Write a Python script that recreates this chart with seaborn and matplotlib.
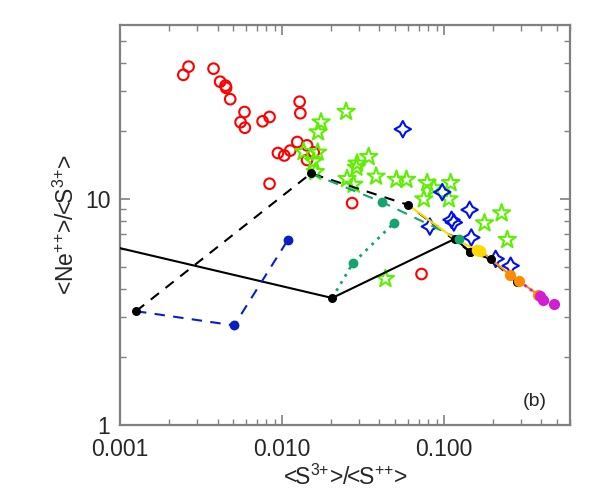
import numpy as np
import pandas as pd
import matplotlib
matplotlib.use("Agg")
import matplotlib.pyplot as plt
import seaborn as sns
from matplotlib.ticker import FixedLocator, NullFormatter, LogLocator

sns.set_style("white")
plt.rcParams['font.family'] = ['Liberation Sans', 'DejaVu Sans']
plt.rcParams['mathtext.fontset'] = 'custom'
plt.rcParams['mathtext.rm'] = 'Liberation Sans'
plt.rcParams['mathtext.it'] = 'Liberation Sans'

# ---------------- data ----------------
red_x = [0.00246, 0.00265, 0.00378, 0.00415, 0.00448, 0.00452, 0.00479, 0.00587,
         0.00555, 0.0059, 0.00759, 0.00838, 0.01285, 0.01298, 0.00944, 0.01033,
         0.01125, 0.01243, 0.01428, 0.0157, 0.01428, 0.00838, 0.0271, 0.0727]
red_y = [35.5, 38.6, 37.8, 33.1, 31.8, 31.1, 27.7, 24.3, 21.9, 20.7, 22.1, 23.1,
         27.0, 24.0, 16.0, 15.6, 16.4, 17.9, 17.3, 16.1, 14.9, 11.7, 9.6, 4.66]

green_x = [0.02488, 0.01743, 0.0167, 0.0136, 0.0166, 0.01568, 0.01607, 0.0343,
           0.0291, 0.0288, 0.0381, 0.0252, 0.0277, 0.0509, 0.0587, 0.0788,
           0.0751, 0.1099, 0.1072, 0.0866, 0.227, 0.178, 0.246, 0.0435]
green_y = [24.4, 21.9, 19.8, 16.2, 16.1, 14.7, 13.2, 15.4, 14.4, 13.8, 12.6, 12.3,
           11.6, 12.2, 12.2, 11.8, 10.0, 11.8, 10.0, 11.2, 8.67, 7.83, 6.61, 4.44]

blue_x = [0.0557, 0.0976, 0.144, 0.1114, 0.1151, 0.0818, 0.1475, 0.2085, 0.258]
blue_y = [20.4, 10.74, 8.97, 8.10, 7.88, 7.56, 6.76, 5.44, 5.07]

# model tracks
solid_x = [0.0003, 0.0204, 0.1168, 0.1445]
solid_y = [7.43, 3.65, 6.67, 5.86]

dashk_x = [0.001256, 0.0151, 0.0598, 0.1445, 0.194, 0.281]
dashk_y = [3.19, 13.0, 9.44, 5.86, 5.43, 4.28]

blue_line_x = [0.001256, 0.00507, 0.01088]
blue_line_y = [3.19, 2.76, 6.6]

teal_dash_x = [0.0151, 0.0415, 0.1236]
teal_dash_y = [13.0, 9.70, 6.67]

teal_dot_x = [0.0204, 0.02733, 0.049]
teal_dot_y = [3.65, 5.19, 7.83]

yellow_x = [0.0598, 0.1168, 0.159, 0.168]
yellow_y = [9.44, 6.67, 5.95, 5.92]

orange_x = [0.168, 0.2556, 0.29, 0.381]
orange_y = [5.92, 4.62, 4.35, 3.77]

mag_x = [0.29, 0.39, 0.411, 0.479]
mag_y = [4.35, 3.71, 3.56, 3.44]

x_ticks = [0.001, 0.010, 0.100]
x_ticklabels = ["0.001", "0.010", "0.100"]
y_ticks = [1, 10]
y_ticklabels = ["1", "10"]

# ---------------- figure ----------------
fig = plt.figure(figsize=(6, 5), dpi=100)
ax = fig.add_axes([0.2, 0.15, 0.75, 0.80])
ax.set_xscale('log')
ax.set_yscale('log')

RED = '#FF0000'
LIME = '#5CF000'
BLUE = '#0010F0'
DBLUE = '#0A1EC8'
TEAL = '#12A56E'
YEL = '#FFD800'
ORA = '#FF8C00'
MAG = '#D21ED2'

sns.scatterplot(x=red_x, y=red_y, ax=ax, marker='o', s=58, facecolor='none',
                edgecolor=RED, linewidth=1.5, zorder=2)
sns.scatterplot(x=green_x, y=green_y, ax=ax, marker='*', s=170, facecolor='none',
                edgecolor=LIME, linewidth=1.5, zorder=3)
sns.scatterplot(x=blue_x, y=blue_y, ax=ax, marker=(4, 1, 0), s=140, facecolor='none',
                edgecolor=BLUE, linewidth=1.5, zorder=3)

def track(x, y, color, ls, lw=1.5, z=4):
    sns.lineplot(x=x, y=y, ax=ax, sort=False, estimator=None, color=color,
                 linestyle=ls, linewidth=lw, zorder=z)

def dots(x, y, color, z=6, s=42):
    sns.scatterplot(x=x, y=y, ax=ax, color=color, s=s, edgecolor=color,
                    linewidth=0, zorder=z)

track(solid_x, solid_y, 'black', '-')
track(dashk_x, dashk_y, 'black', (0, (5, 4)))
track(blue_line_x, blue_line_y, DBLUE, (0, (5, 4)))
track(teal_dash_x, teal_dash_y, TEAL, (0, (5, 4)))
track(teal_dot_x, teal_dot_y, TEAL, (0, (1, 2)), lw=2)
track(yellow_x, yellow_y, YEL, '-', z=5)
track(orange_x, orange_y, ORA, '-', z=5)
track(mag_x, mag_y, MAG, (0, (1, 1.5)), lw=2, z=5)

dots(solid_x[1:], solid_y[1:], 'black')
dots(dashk_x, dashk_y, 'black')
dots(blue_line_x[1:], blue_line_y[1:], DBLUE, s=50)
dots(teal_dash_x[1:], teal_dash_y[1:], TEAL, z=7, s=50)
dots(teal_dot_x[1:], teal_dot_y[1:], TEAL, s=50)
dots(yellow_x[2:], yellow_y[2:], YEL, z=7, s=70)
dots(orange_x[1:], orange_y[1:], ORA, z=7, s=65)
dots(mag_x[1:], mag_y[1:], MAG, z=7, s=65)

ax.set_xlim(0.001, 0.6)
ax.set_ylim(1, 59)

ax.xaxis.set_major_locator(FixedLocator(x_ticks))
ax.set_xticklabels(x_ticklabels)
ax.yaxis.set_major_locator(FixedLocator(y_ticks))
ax.set_yticklabels(y_ticklabels)
ax.xaxis.set_minor_locator(LogLocator(base=10, subs=np.arange(2, 10)))
ax.yaxis.set_minor_locator(LogLocator(base=10, subs=np.arange(2, 10)))
ax.xaxis.set_minor_formatter(NullFormatter())
ax.yaxis.set_minor_formatter(NullFormatter())

SPC = '#808080'
for sp in ax.spines.values():
    sp.set_color(SPC)
    sp.set_linewidth(1.6)
    sp.set_visible(True)
ax.tick_params(which='both', direction='in', top=True, right=True,
               bottom=True, left=True, color=SPC, labelsize=16.5)
ax.tick_params(axis='x', pad=9)
ax.tick_params(axis='y', pad=7)
ax.tick_params(which='major', length=7, width=1.2)
ax.tick_params(which='minor', length=4, width=1.0)

ax.set_xlabel(r"<S$^{{3}{+}}$>/<S$^{{+}{+}}$>", fontsize=16.5, labelpad=3)
ax.set_ylabel(r"<Ne$^{{+}{+}}$>/<S$^{{3}{+}}$>", fontsize=16.5, labelpad=4)
ax.text(0.922, 0.058, "(b)", transform=ax.transAxes, fontsize=14,
        ha='center', va='center')

fig.savefig("out.png", dpi=100)
